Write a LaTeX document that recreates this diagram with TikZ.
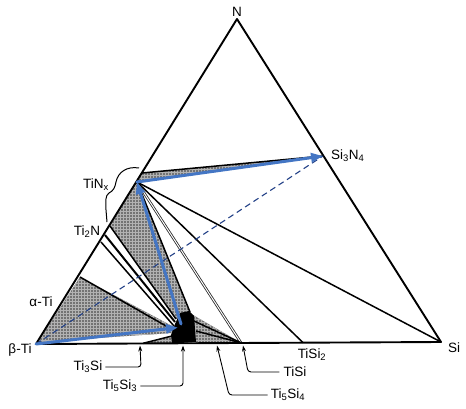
\documentclass[tikz,border=0pt]{standalone}
\usepackage{fontspec}
\setmainfont{Liberation Sans}
\usetikzlibrary{arrows.meta,patterns}
\definecolor{myblue}{RGB}{68,118,196}
\definecolor{navy}{RGB}{35,65,135}
\begin{document}
\begin{tikzpicture}[x=1pt,y=-1pt,
  font=\fontsize{13.5}{15}\selectfont,
  lbl/.style={inner sep=0pt},
  edge/.style={line width=1.9pt,line join=round},
  tie/.style={line width=1.5pt},
  thicktie/.style={line width=2pt},
  dbl/.style={draw=black!85,double=white,double distance=1pt,line width=0.8pt},
  hatch/.style={fill=black!55,postaction={pattern=grid,pattern color=black!30}},
  barrow/.style={line width=3pt,draw=myblue,-{Triangle[length=12pt,width=9pt]},line cap=round},
  leader/.style={line width=0.9pt,-{Stealth[length=6pt,width=4pt]},rounded corners=3pt},
  dashline/.style={draw=navy,line width=1.1pt,dash pattern=on 6pt off 4pt}]
\useasboundingbox (0,0) rectangle (466,409);
% vertices and points
\coordinate (N) at (237,19);
\coordinate (BTi) at (36,344);
\coordinate (Si) at (441,342);
\coordinate (TiN) at (137,182);
\coordinate (TiNtop) at (142,173);
\coordinate (TiNbot) at (110,226);
\coordinate (Ti2N) at (105,235);
\coordinate (Ti2Nb) at (101,242);
\coordinate (aTi) at (80,277);
\coordinate (SiN) at (323,156);
\coordinate (T3) at (143,343.3);
\coordinate (TSi) at (241,342.8);
\coordinate (TSi2) at (303,342.6);
% hatched regions
\path[hatch] (TiNtop) -- (TiN) -- (SiN) -- cycle;
\path[hatch] (TiN) -- (TiNbot) -- (176,319) -- (190,312) -- cycle;
\path[hatch] (aTi) -- (38,342) -- (172,333) -- (174,327) -- cycle;
\path[hatch] (T3) -- (172,336) -- (172,343.3) -- cycle;
\path[hatch] (193,315) -- (TSi) -- (196,343) -- cycle;
% Ti5Si3 blob
\fill (180,313) -- (189,311) -- (194,316) -- (196,342) -- (172,343.5) -- (171,335) -- (175,324) -- cycle;
% tie lines
\draw[tie] (TiNtop) -- (SiN);
\draw[tie] (TiNbot) -- (176,319);
\draw[thicktie] (Ti2N) -- (175,322);
\draw[tie] (Ti2Nb) -- (174,326);
\draw[tie] (aTi) -- (173,330);
\draw[tie] (TiN) -- (190,312);
\draw[dbl] (TiN) -- (TSi);
\draw[tie] (TiN) -- (TSi2);
\draw[tie] (TiN) -- (Si);
\draw[tie] (194,321) -- (TSi);
\draw[tie] (196,331) -- (TSi);
\draw[tie] (T3) -- (172,336);
% main triangle
\draw[edge] (BTi) -- (N) -- (Si) -- cycle;
% dashed line
\draw[dashline] (BTi) -- (SiN);
% blue path
\draw[barrow] (BTi) -- (178,327.5);
\draw[barrow] (181,324) -- (TiN);
\draw[barrow] (TiN) -- (SiN);
% brace
\draw[line width=1pt] (139,168) .. controls (127,166) and (118,172) .. (116,182)
  .. controls (115,188) and (113,191) .. (109,193)
  .. controls (105,196) and (106,200) .. (106,210) -- (107,222);
% labels
\node[lbl] (lN) at (237,12) {N};
\node[lbl] (lSi) at (454,348) {Si};
\node[lbl,anchor=west] (lSiN) at (331,156) {Si\textsubscript{3}N\textsubscript{4}};
\node[lbl] (lTiN) at (96,185) {TiN\textsubscript{x}};
\node[lbl] (lTi2N) at (87,232) {Ti\textsubscript{2}N};
\node[lbl] (laTi) at (41,302) {α-Ti};
\node[lbl] (lbTi) at (20,350) {β-Ti};
\node[lbl] (lTi3Si) at (88,367) {Ti\textsubscript{3}Si};
\node[lbl] (lTi53) at (120,386) {Ti\textsubscript{5}Si\textsubscript{3}};
\node[lbl] (lTi54) at (288,395) {Ti\textsubscript{5}Si\textsubscript{4}};
\node[lbl] (lTiSi) at (295,372) {TiSi};
\node[lbl] (lTiSi2) at (312,355) {TiSi\textsubscript{2}};
% leader arrows
\coordinate (p3) at (140,345.5);
\coordinate (p53) at (183,345.5);
\coordinate (p54) at (217,345.5);
\coordinate (pSi) at (243,345.5);
\draw[leader] ([xshift=3pt]lTi3Si.east) -- (141,367) -- (p3);
\draw[leader] ([xshift=3pt]lTi53.east) -- (183,386) -- (p53);
\draw[leader] ([xshift=-3pt]lTi54.west) -- (229,395) -- (p54);
\draw[leader] ([xshift=-4pt]lTiSi.west) -- (248,372) -- (pSi);
\end{tikzpicture}
\end{document}
